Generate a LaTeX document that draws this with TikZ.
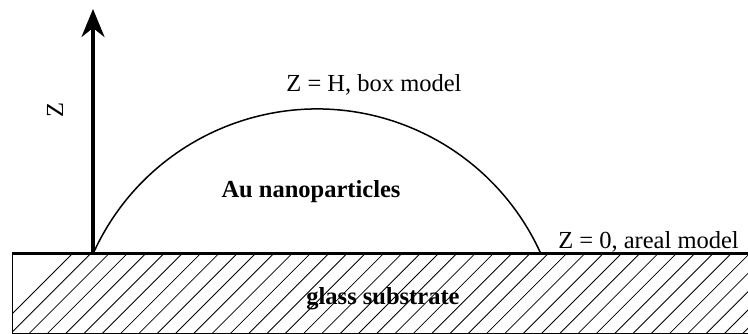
\documentclass[tikz,border=0pt]{standalone}
\usepackage{fontspec}
\setmainfont{Liberation Serif}
\usetikzlibrary{arrows.meta}
\tikzset{
  lbl/.style={inner sep=0pt, font=\fontsize{24.5}{29}\selectfont},
  blbl/.style={inner sep=0pt, font=\fontsize{24.5}{29}\selectfont\bfseries},
  hatch/.style={line width=0.8pt},
  axis/.style={line width=3.3pt, -{Stealth[length=28pt,width=23pt,inset=9pt]}},
  dome/.style={line width=1.5pt},
}
\begin{document}
\begin{tikzpicture}[x=1pt,y=1pt]
\useasboundingbox (0,0) rectangle (748,-334);
\clip (0,0) rectangle (748,-334);
% substrate hatching
\begin{scope}
  \clip (12.5,-253.5) rectangle (760,-333.5);
  \foreach \k in {0,...,45} {
    \draw[hatch] ({-8+18.3*\k},-334) -- ({72+18.3*\k},-254);
  }
\end{scope}
\draw[line width=0.9pt] (12.5,-253.5) -- (12.5,-333.5) -- (760,-333.5);
\draw[line width=2.5pt] (12,-253.5) -- (760,-253.5);
% coordinates
\coordinate (origin) at (93,-254);
\coordinate (ztop) at (93,-9);
\coordinate (right) at (541,-254);
% dome
\draw[dome] (origin) arc[start angle=155.84, end angle=24.16, radius=245.5];
% axis
\draw[axis] (origin) -- (ztop);
% labels
\node[lbl, rotate=90] (zlab) at (55,-110) {Z};
\node[lbl, anchor=base] (top) at (374,-92) {Z = H, box model};
\node[lbl, anchor=base] (bottom) at (648.5,-248) {Z = 0, areal model};
\node[blbl, anchor=base] (au) at (311,-198) {Au nanoparticles};
\node[blbl, anchor=base] (glass) at (383,-305) {glass substrate};
\end{tikzpicture}
\end{document}
